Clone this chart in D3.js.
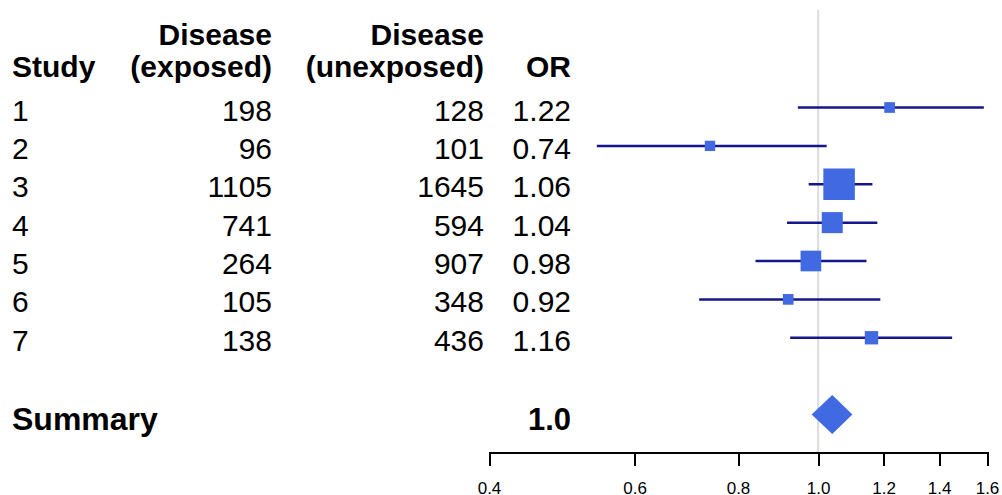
<!DOCTYPE html>
<html>
<head>
<meta charset="utf-8">
<title>forest-plot</title>
<script src="https://cdn.jsdelivr.net/npm/d3@7"></script>
<style>
  body { margin: 0; background: #fff; }
  svg { display: block; font-family: "Liberation Sans", Arial, sans-serif; }
  .head { font-weight: bold; font-size: 30px; fill: #000; }
  .cell { font-size: 30px; fill: #000; }
  .axis path, .axis line { stroke: #000; stroke-width: 2px; shape-rendering: crispEdges; }
  .axis text { font-size: 17px; fill: #000; }
  .ci { stroke: #16168c; stroke-width: 2.5px; }
  .box { fill: #4169e1; }
</style>
</head>
<body>
<svg width="1002" height="495"></svg>
<script>
// table data
var studies = ["1", "2", "3", "4", "5", "6", "7"];
var exposed = [198, 96, 1105, 741, 264, 105, 138];
var unexposed = [128, 101, 1645, 594, 907, 348, 436];
var oddsRatio = [1.22, 0.74, 1.06, 1.04, 0.98, 0.92, 1.16];
var ciLower = [0.945, 0.54, 0.974, 0.917, 0.84, 0.718, 0.925];
var ciUpper = [1.586, 1.024, 1.163, 1.179, 1.144, 1.189, 1.452];
var weights = [4.8, 4.5, 41.8, 18.6, 18.0, 4.8, 7.5]; // % weight -> box area

var summaryLabel = "Summary";
var summaryText = "1.0";
var summaryOR = 1.04;
var summaryLower = 0.982;
var summaryUpper = 1.10;

var axisTicks = [0.4, 0.6, 0.8, 1.0, 1.2, 1.4, 1.6];

var svg = d3.select("svg");

var x = d3.scaleLog().domain([0.4, 1.6]).range([489, 987]);
// rows: 0..6 studies, 8 summary
var y = d3.scaleLinear().domain([0, 8]).range([107.5, 414.5]);
var boxSize = d3.scaleSqrt().domain([0, d3.max(weights)]).range([0, 31.5]);

var colStudy = 12, colExp = 272, colUnexp = 484, colOR = 571;

// header
var hdr = svg.append("g").attr("class", "head");
hdr.append("text").attr("x", colExp).attr("y", y(-2) + 14).attr("text-anchor", "end").text("Disease");
hdr.append("text").attr("x", colUnexp).attr("y", y(-2) + 14).attr("text-anchor", "end").text("Disease");
hdr.append("text").attr("x", colStudy).attr("y", y(-1) + 8).text("Study");
hdr.append("text").attr("x", colExp).attr("y", y(-1) + 8).attr("text-anchor", "end").text("(exposed)");
hdr.append("text").attr("x", colUnexp).attr("y", y(-1) + 8).attr("text-anchor", "end").text("(unexposed)");
hdr.append("text").attr("x", colOR).attr("y", y(-1) + 8).attr("text-anchor", "end").text("OR");

// reference line at OR = 1
svg.append("line")
  .attr("x1", x(1)).attr("x2", x(1))
  .attr("y1", 10).attr("y2", 452)
  .attr("stroke", "#dcdcdc").attr("stroke-width", 2);

var rows = svg.selectAll(".row")
  .data(studies)
  .enter().append("g")
  .attr("class", "row")
  .attr("transform", function(d, i) { return "translate(0," + y(i) + ")"; });

rows.append("text").attr("class", "cell").attr("x", colStudy).attr("dy", 13)
  .text(function(d) { return d; });
rows.append("text").attr("class", "cell").attr("x", colExp).attr("dy", 13)
  .attr("text-anchor", "end").text(function(d, i) { return exposed[i]; });
rows.append("text").attr("class", "cell").attr("x", colUnexp).attr("dy", 13)
  .attr("text-anchor", "end").text(function(d, i) { return unexposed[i]; });
rows.append("text").attr("class", "cell").attr("x", colOR).attr("dy", 13)
  .attr("text-anchor", "end").text(function(d, i) { return oddsRatio[i].toFixed(2); });

rows.append("line").attr("class", "ci")
  .attr("x1", function(d, i) { return x(ciLower[i]); })
  .attr("x2", function(d, i) { return x(ciUpper[i]); });

rows.append("rect").attr("class", "box")
  .attr("x", function(d, i) { return x(oddsRatio[i]) - boxSize(weights[i]) / 2; })
  .attr("y", function(d, i) { return -boxSize(weights[i]) / 2; })
  .attr("width", function(d, i) { return boxSize(weights[i]); })
  .attr("height", function(d, i) { return boxSize(weights[i]); });

// summary row
var sy = y(8);
svg.append("text").attr("class", "head").attr("x", colStudy).attr("y", sy + 15)
  .style("font-size", "32px").text(summaryLabel);
svg.append("text").attr("class", "head").attr("x", colOR).attr("y", sy + 15)
  .style("font-size", "31px").attr("text-anchor", "end").text(summaryText);
svg.append("path").attr("class", "box")
  .attr("d", "M" + x(summaryLower) + "," + sy +
    "L" + x(summaryOR) + "," + (sy - 19.5) +
    "L" + x(summaryUpper) + "," + sy +
    "L" + x(summaryOR) + "," + (sy + 19.5) + "Z");

// axis (labels sit low, partly past the bottom edge as in the source)
svg.append("g")
  .attr("class", "axis")
  .attr("transform", "translate(0,452)")
  .call(d3.axisBottom(x).tickValues(axisTicks).tickFormat(d3.format(".1f"))
    .tickSize(14).tickPadding(16));
</script>
</body>
</html>
